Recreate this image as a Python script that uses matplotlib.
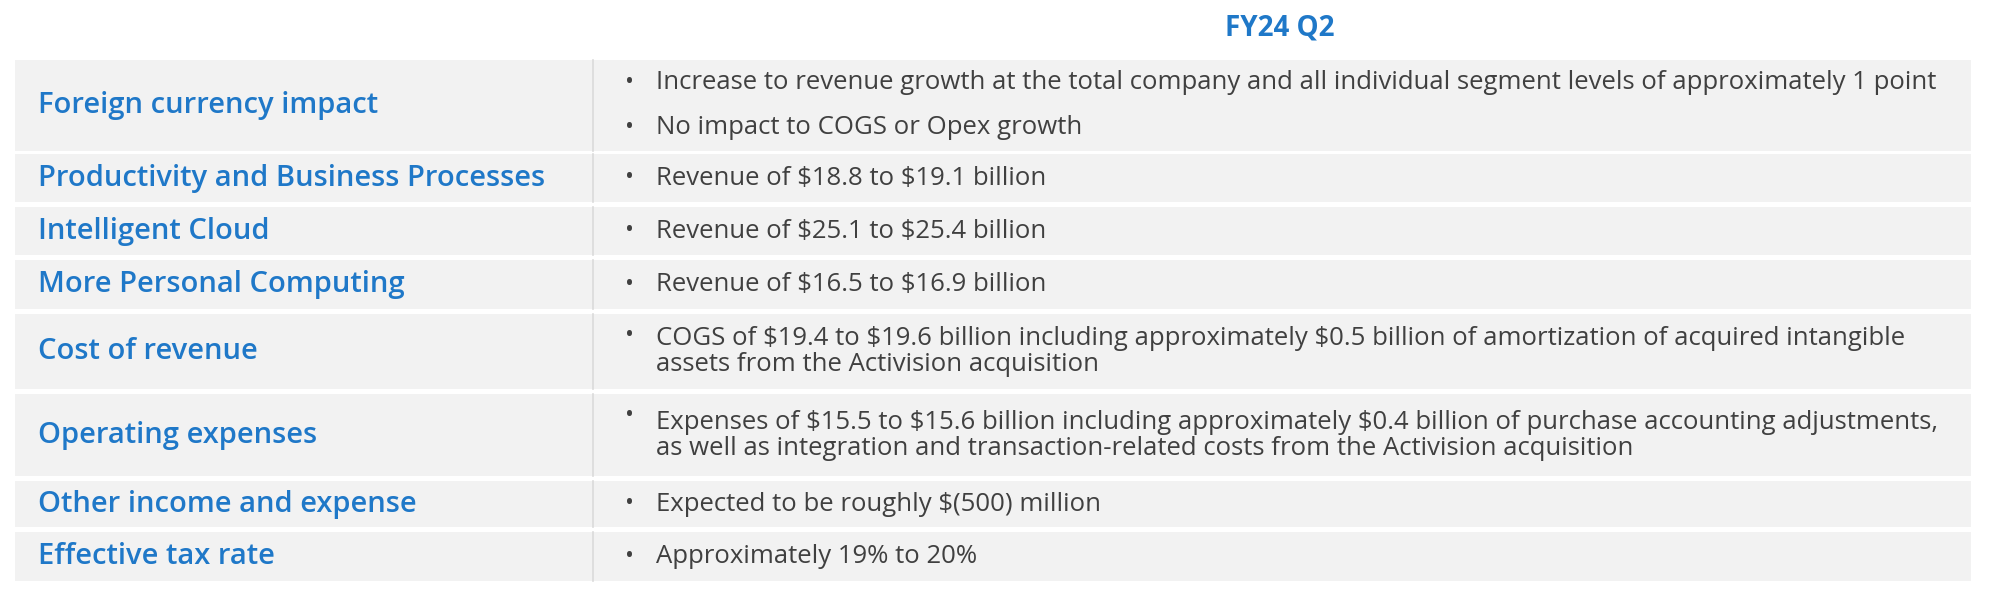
import matplotlib
matplotlib.use("Agg")
import matplotlib.pyplot as plt
from matplotlib.patches import Rectangle

plt.rcParams["text.parse_math"] = False

title = "FY24 Q2"
categories = ["Foreign currency impact", "Productivity and Business Processes", "Intelligent Cloud",
              "More Personal Computing", "Cost of revenue", "Operating expenses",
              "Other income and expense", "Effective tax rate"]
bullets = [
    ["Increase to revenue growth at the total company and all individual segment levels of approximately 1 point",
     "No impact to COGS or Opex growth"],
    ["Revenue of $18.8 to $19.1 billion"],
    ["Revenue of $25.1 to $25.4 billion"],
    ["Revenue of $16.5 to $16.9 billion"],
    ["COGS of $19.4 to $19.6 billion including approximately $0.5 billion of amortization of acquired intangible\nassets from the Activision acquisition"],
    ["Expenses of $15.5 to $15.6 billion including approximately $0.4 billion of purchase accounting adjustments,\nas well as integration and transaction-related costs from the Activision acquisition"],
    ["Expected to be roughly $(500) million"],
    ["Approximately 19% to 20%"],
]
row_tops = [47, 121, 162, 204, 246, 309, 377, 417]
row_bots = [118, 158, 200, 242, 305, 373, 413, 455]

fig = plt.figure(figsize=(20, 6), dpi=100)
ax = fig.add_axes([0, 0, 1, 1])
ax.set_xlim(0, 1568); ax.set_ylim(470, 0); ax.axis("off")
blue = "#1f78c8"; grey = "#404040"
ax.text(1003, 22, title, color=blue, fontsize=20, fontweight="bold", family="Open Sans", ha="center", va="center")
for cat, bl, t, b in zip(categories, bullets, row_tops, row_bots):
    ax.add_patch(Rectangle((12, t), 1533, b - t, color="#f2f2f2", lw=0))
    ax.plot([465, 465], [t, b], color="#dadada", lw=1.2)
    ax.text(30, (t + b) / 2, cat, color=blue, fontsize=21, fontweight="semibold", family="Open Sans", va="center")
    n = len(bl)
    if n == 1 and "\n" in bl[0]:
        ax.text(490, t + 17, "•", color=grey, fontsize=17, family="Open Sans", va="center")
    for i, s in enumerate(bl):
        y = t + (b - t) * (i + 0.5) / n
        if "\n" not in s:
            ax.text(490, y, "•", color=grey, fontsize=17, family="Open Sans", va="center")
        ax.text(514, y, s, color=grey, fontsize=18.5, family="Open Sans", va="center", linespacing=1.05)
fig.savefig("out.png", dpi=100, facecolor="white")
